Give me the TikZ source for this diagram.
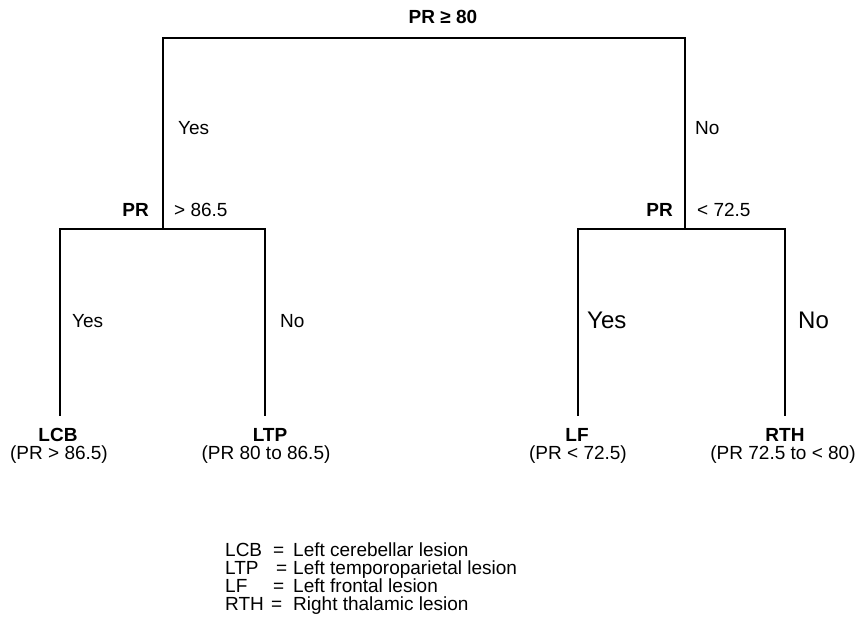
\documentclass[tikz,border=0pt]{standalone}
\usepackage{fontspec}
\setmainfont{Liberation Sans}
\begin{document}
\begin{tikzpicture}[x=1pt,y=-1pt,
  branch/.style={line width=1.8pt,black},
  lbl/.style={inner sep=0pt,font=\fontsize{19}{22}\selectfont},
  blbl/.style={inner sep=0pt,font=\fontsize{19}{22}\selectfont\bfseries},
  biglbl/.style={inner sep=0pt,font=\fontsize{24}{28}\selectfont},
  leaf/.style={inner sep=0pt,align=center,font=\fontsize{19}{21}\selectfont}]
\useasboundingbox (0,0) rectangle (860,628);

% split points and branch ends
\coordinate (rootL) at (163,38);
\coordinate (rootR) at (685,38);
\coordinate (nL) at (163,229);
\coordinate (nR) at (685,229);
\coordinate (nLl) at (60,229);
\coordinate (nLr) at (265,229);
\coordinate (nRl) at (578,229);
\coordinate (nRr) at (785,229);
\coordinate (eLCB) at (60,416);
\coordinate (eLTP) at (265,416);
\coordinate (eLF) at (578,416);
\coordinate (eRTH) at (785,416);

% branches
\draw[branch] (nL) -- (rootL) -- (rootR) -- (nR);
\draw[branch] (eLCB) -- (nLl) -- (nLr) -- (eLTP);
\draw[branch] (eLF) -- (nRl) -- (nRr) -- (eRTH);

% split conditions
\node[blbl,anchor=base] (root) at (443,24) {PR ≥ 80};
\node[blbl,anchor=base east] (prL) at (149,217) {PR};
\node[lbl,anchor=base west] (cL) at (174,217) {> 86.5};
\node[blbl,anchor=base east] (prR) at (673,217) {PR};
\node[lbl,anchor=base west] (cR) at (697,217) {< 72.5};

% answers
\node[lbl,anchor=base west] (y1) at (178,135) {Yes};
\node[lbl,anchor=base west] (n1) at (695,135) {No};
\node[lbl,anchor=base west] (y2) at (72,328) {Yes};
\node[lbl,anchor=base west] (n2) at (280,328) {No};
\node[biglbl,anchor=base west] (y3) at (587,329) {Yes};
\node[biglbl,anchor=base west] (n3) at (798,329) {No};

% leaves
\node[leaf,anchor=base] (LCB) at (58,442) {\textbf{LCB}};
\node[leaf,anchor=base] (LCBr) at (59,460) {(PR > 86.5)};
\node[leaf,anchor=base] (LTP) at (270,442) {\textbf{LTP}};
\node[leaf,anchor=base] (LTPr) at (266,460) {(PR 80 to 86.5)};
\node[leaf,anchor=base] (LF) at (577,442) {\textbf{LF}};
\node[leaf,anchor=base] (LFr) at (578,460) {(PR < 72.5)};
\node[leaf,anchor=base] (RTH) at (785,442) {\textbf{RTH}};
\node[leaf,anchor=base] (RTHr) at (783,460) {(PR 72.5 to < 80)};

% legend
\foreach \ab/\ex/\txt/\yy [count=\i] in {LCB/273/Left cerebellar lesion/556,
    LTP/276/Left temporoparietal lesion/574,
    LF/273/Left frontal lesion/592,
    RTH/271/Right thalamic lesion/610}{
  \node[lbl,anchor=base west] (ab\i) at (225,\yy) {\ab};
  \node[lbl,anchor=base west] (eq\i) at (\ex,\yy) {=};
  \node[lbl,anchor=base west] (tx\i) at (293,\yy) {\txt};
}
\end{tikzpicture}
\end{document}
